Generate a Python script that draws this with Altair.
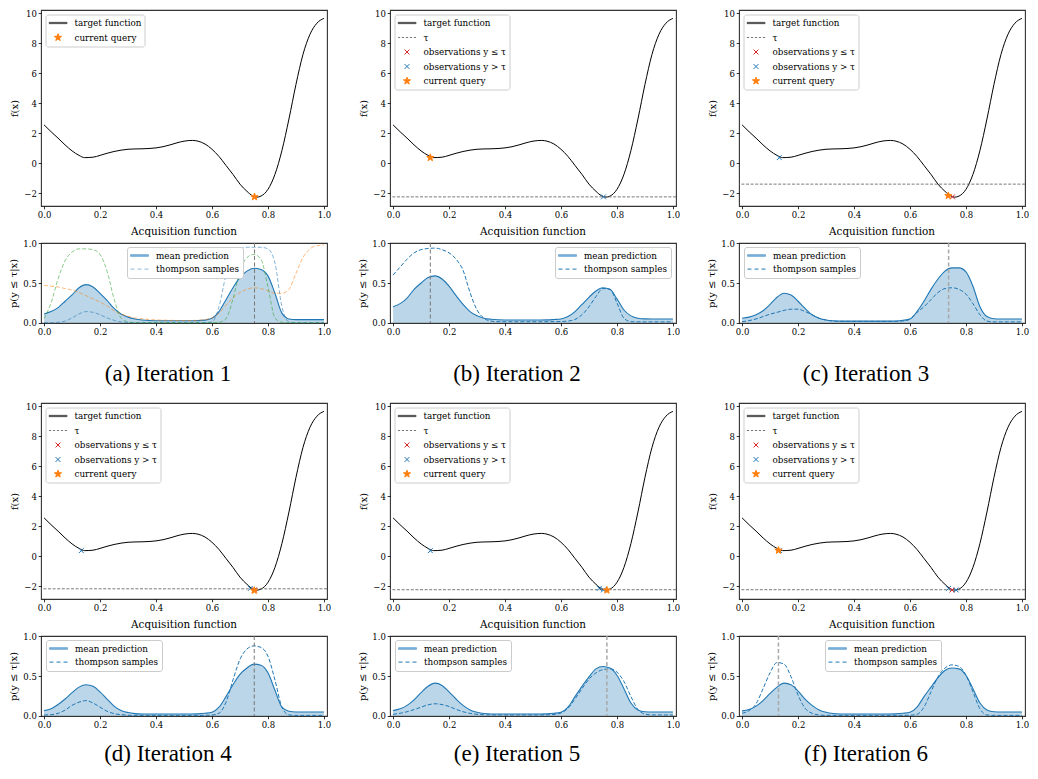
import math
import altair as alt
import pandas as pd

FONT = "DejaVu Serif"
CAP_FONT = "Liberation Serif"
BLUE = "#1f77b4"
ORANGE = "#ff7f0e"
GREEN = "#2ca02c"
RED = "#d62728"

# ---------------- target function ----------------
F_X = [0.0, 0.025, 0.05, 0.075, 0.1, 0.125, 0.145, 0.175, 0.2, 0.225, 0.25, 0.275,
       0.3, 0.325, 0.35, 0.375, 0.4, 0.425, 0.45, 0.475, 0.5, 0.53, 0.55, 0.575,
       0.6, 0.625, 0.65, 0.675, 0.7, 0.725, 0.745, 0.76, 0.775, 0.8, 0.825, 0.85,
       0.875, 0.9, 0.925, 0.95, 0.975, 1.0]
F_Y = [2.56, 2.1, 1.67, 1.22, 0.82, 0.52, 0.37, 0.40, 0.52, 0.66, 0.78, 0.87,
       0.93, 0.95, 0.96, 0.98, 1.02, 1.10, 1.22, 1.36, 1.47, 1.52, 1.47, 1.28,
       0.93, 0.45, -0.15, -0.75, -1.4, -1.88, -2.18, -2.27, -2.2, -1.75, -0.75, 0.85,
       2.95, 5.25, 7.25, 8.6, 9.35, 9.67]

# ---------------- acquisition curves ----------------
X_ACQ = [0.0, 0.025, 0.05, 0.075, 0.1, 0.125, 0.15, 0.175, 0.2, 0.225, 0.25, 0.275,
         0.3, 0.325, 0.35, 0.375, 0.4, 0.425, 0.45, 0.475, 0.5, 0.525, 0.55, 0.575,
         0.6, 0.625, 0.65, 0.675, 0.7, 0.725, 0.75, 0.775, 0.8, 0.825, 0.85, 0.875,
         0.9, 0.925, 0.95, 0.975, 1.0]

MEAN_A = [0.11, 0.14, 0.19, 0.27, 0.35, 0.44, 0.48, 0.45, 0.37, 0.28, 0.18, 0.11,
          0.07, 0.047, 0.034, 0.027, 0.025, 0.025, 0.025, 0.025, 0.025, 0.025, 0.026, 0.032,
          0.055, 0.14, 0.29, 0.44, 0.57, 0.65, 0.685, 0.67, 0.59, 0.37, 0.12, 0.047,
          0.038, 0.038, 0.038, 0.038, 0.038]
TS_A_BLUE = [0.0, 0.0, 0.005, 0.02, 0.06, 0.11, 0.14, 0.13, 0.1, 0.06, 0.03, 0.01,
             0.003, 0.0, 0.0, 0.0, 0.0, 0.0, 0.0, 0.0, 0.0, 0.0, 0.0, 0.002,
             0.01, 0.2, 0.6, 0.85, 0.93, 0.95, 0.95, 0.95, 0.93, 0.75, 0.2, 0.01,
             0.0, 0.0, 0.0, 0.0, 0.0]
TS_A_ORANGE = [0.47, 0.46, 0.45, 0.43, 0.41, 0.38, 0.34, 0.30, 0.26, 0.21, 0.15, 0.11,
               0.08, 0.06, 0.05, 0.04, 0.035, 0.032, 0.03, 0.028, 0.026, 0.027, 0.03, 0.04,
               0.06, 0.12, 0.22, 0.31, 0.38, 0.42, 0.44, 0.43, 0.40, 0.37, 0.37, 0.42,
               0.62, 0.82, 0.93, 0.97, 0.98]
TS_A_GREEN = [0.05, 0.25, 0.55, 0.78, 0.89, 0.93, 0.93, 0.92, 0.86, 0.65, 0.3, 0.06,
              0.01, 0.0, 0.0, 0.0, 0.0, 0.0, 0.0, 0.0, 0.0, 0.0, 0.0, 0.0,
              0.0, 0.005, 0.05, 0.3, 0.65, 0.82, 0.86, 0.8, 0.45, 0.06, 0.005, 0.0,
              0.0, 0.0, 0.0, 0.0, 0.0]

MEAN_B = [0.2, 0.24, 0.31, 0.42, 0.5, 0.57, 0.59, 0.55, 0.46, 0.34, 0.23, 0.14,
          0.086, 0.056, 0.043, 0.036, 0.034, 0.034, 0.034, 0.034, 0.034, 0.034, 0.035, 0.04,
          0.047, 0.077, 0.14, 0.23, 0.32, 0.4, 0.44, 0.42, 0.3, 0.16, 0.086, 0.056,
          0.048, 0.047, 0.047, 0.047, 0.047]
TS_B = [0.6, 0.7, 0.8, 0.88, 0.92, 0.935, 0.94, 0.92, 0.88, 0.8, 0.66, 0.38,
        0.16, 0.056, 0.02, 0.013, 0.012, 0.012, 0.012, 0.012, 0.012, 0.012, 0.012, 0.013,
        0.015, 0.02, 0.04, 0.1, 0.2, 0.33, 0.43, 0.42, 0.25, 0.056, 0.013, 0.01,
        0.01, 0.01, 0.01, 0.01, 0.01]

MEAN_C = [0.056, 0.07, 0.1, 0.15, 0.23, 0.32, 0.37, 0.35, 0.27, 0.18, 0.1, 0.056,
          0.034, 0.024, 0.02, 0.02, 0.02, 0.02, 0.02, 0.02, 0.02, 0.02, 0.022, 0.03,
          0.047, 0.14, 0.27, 0.42, 0.55, 0.65, 0.69, 0.69, 0.64, 0.46, 0.2, 0.077,
          0.05, 0.047, 0.047, 0.047, 0.047]
TS_C = [0.013, 0.026, 0.047, 0.077, 0.107, 0.13, 0.155, 0.17, 0.17, 0.14, 0.1, 0.056,
        0.034, 0.02, 0.017, 0.016, 0.016, 0.016, 0.016, 0.016, 0.016, 0.016, 0.017, 0.022,
        0.043, 0.13, 0.2, 0.29, 0.38, 0.43, 0.44, 0.42, 0.36, 0.24, 0.1, 0.02,
        0.01, 0.01, 0.01, 0.01, 0.01]

MEAN_D = [0.064, 0.086, 0.14, 0.21, 0.29, 0.36, 0.39, 0.37, 0.3, 0.21, 0.12, 0.064,
          0.039, 0.026, 0.021, 0.021, 0.021, 0.021, 0.021, 0.021, 0.021, 0.021, 0.023, 0.03,
          0.043, 0.107, 0.24, 0.39, 0.52, 0.6, 0.65, 0.635, 0.54, 0.32, 0.107, 0.056,
          0.047, 0.047, 0.047, 0.047, 0.047]
TS_D = [0.009, 0.012, 0.03, 0.07, 0.13, 0.17, 0.19, 0.16, 0.107, 0.056, 0.026, 0.013,
        0.006, 0.004, 0.004, 0.004, 0.004, 0.004, 0.004, 0.004, 0.004, 0.004, 0.004, 0.005,
        0.008, 0.03, 0.17, 0.45, 0.71, 0.84, 0.88, 0.86, 0.75, 0.45, 0.107, 0.009,
        0.004, 0.004, 0.004, 0.004, 0.004]

MEAN_E = [0.064, 0.086, 0.13, 0.2, 0.29, 0.37, 0.41, 0.38, 0.3, 0.21, 0.13, 0.073,
          0.043, 0.027, 0.021, 0.021, 0.021, 0.021, 0.021, 0.021, 0.021, 0.021, 0.023, 0.03,
          0.043, 0.107, 0.24, 0.37, 0.49, 0.59, 0.62, 0.6, 0.51, 0.34, 0.16, 0.073,
          0.05, 0.047, 0.047, 0.047, 0.047]
TS_E = [0.017, 0.03, 0.05, 0.077, 0.107, 0.137, 0.15, 0.14, 0.116, 0.08, 0.05, 0.03,
        0.017, 0.011, 0.009, 0.009, 0.009, 0.009, 0.009, 0.009, 0.009, 0.009, 0.01, 0.016,
        0.034, 0.094, 0.21, 0.34, 0.46, 0.54, 0.58, 0.59, 0.55, 0.43, 0.24, 0.077,
        0.021, 0.009, 0.009, 0.009, 0.009]

MEAN_F = [0.06, 0.077, 0.12, 0.19, 0.28, 0.36, 0.41, 0.39, 0.31, 0.21, 0.13, 0.073,
          0.043, 0.027, 0.021, 0.021, 0.021, 0.021, 0.021, 0.021, 0.021, 0.021, 0.023, 0.03,
          0.043, 0.107, 0.24, 0.36, 0.48, 0.57, 0.6, 0.59, 0.51, 0.34, 0.16, 0.073,
          0.05, 0.047, 0.047, 0.047, 0.047]
TS_F = [0.03, 0.064, 0.15, 0.34, 0.54, 0.67, 0.65, 0.49, 0.26, 0.094, 0.03, 0.009,
        0.004, 0.004, 0.004, 0.004, 0.004, 0.004, 0.004, 0.004, 0.004, 0.004, 0.004, 0.004,
        0.006, 0.017, 0.107, 0.3, 0.49, 0.6, 0.64, 0.62, 0.51, 0.3, 0.086, 0.009,
        0.004, 0.004, 0.004, 0.004, 0.004]

MEANS = [MEAN_A, MEAN_B, MEAN_C, MEAN_D, MEAN_E, MEAN_F]
SAMPLES = [None, TS_B, TS_C, TS_D, TS_E, TS_F]
for _s in MEANS + SAMPLES[1:] + [TS_A_BLUE, TS_A_ORANGE, TS_A_GREEN]:
    assert len(_s) == len(X_ACQ), len(_s)
assert len(F_X) == len(F_Y)

QUERY_ACQ = [0.752, 0.133, 0.738, 0.751, 0.764, 0.13]
VLINE_COLOR = ["#777777", "#777777", "#a8a8a8", "#777777", "#a8a8a8", "#a8a8a8"]
VLINE_WIDTH = [1.0, 1.0, 1.5, 1.0, 1.5, 1.5]

# ---------------- observations / queries in the top panels ----------------
TAU = [None, -2.25, -1.4, -2.18, -2.24, -2.24]
OBS_X = [[], [0.752], [0.133, 0.752], [0.133, 0.737, 0.752],
         [0.133, 0.737, 0.752], [0.134, 0.738, 0.75, 0.765]]
OBS_Y = [[], [-2.25], [0.37, -2.25], [0.37, -2.15, -2.25],
         [0.37, -2.15, -2.25], [0.37, -2.15, -2.26, -2.26]]
OBS_LOW = [[], [False], [False, True], [False, False, True],
           [False, False, False], [False, False, True, False]]
QUERY_X = [0.752, 0.133, 0.737, 0.751, 0.764, 0.13]
QUERY_Y = [-2.25, 0.37, -2.17, -2.29, -2.27, 0.39]

CAPTIONS = ["(a) Iteration 1", "(b) Iteration 2", "(c) Iteration 3",
            "(d) Iteration 4", "(e) Iteration 5", "(f) Iteration 6"]
CAP_DY = [11, 11, 11, -2, -2, -2]
ACQ_LEG_X = [86, 165, 5, 5, 5, 86]

XTICKS = [0.0, 0.2, 0.4, 0.6, 0.8, 1.0]
YTICKS_MAIN = [-2, 0, 2, 4, 6, 8, 10]
YTICKS_ACQ = [0.0, 0.5, 1.0]

W = 286
H_MAIN = 196
H_ACQ = 80


# ---------------- symbol shapes (unit square paths) ----------------
def star_path(r_out, r_in):
    pts = []
    for k in range(10):
        r = r_out if k % 2 == 0 else r_in
        a = math.radians(-90 + 36 * k)
        pts.append(f"{r * math.cos(a):.4f},{r * math.sin(a):.4f}")
    return "M" + "L".join(pts) + "Z"


CROSS = "M-0.27,-0.27L0.27,0.27M-0.27,0.27L0.27,-0.27"
STAR = star_path(0.42, 0.17)
SOLID_BAR = "M-1,-0.07H1V0.07H-1Z"
THIN_DASH = "M-1,0H-0.76M-0.56,0H-0.32M-0.12,0H0.12M0.32,0H0.56M0.76,0H1"
LONG_DASH = "M-1,0H-0.56M-0.22,0H0.22M0.56,0H1"
MEAN_BAR = "M-1,-0.09H1V0.09H-1Z"


def legend(lx, ly, row_pad):
    return alt.Legend(orient="none", legendX=lx, legendY=ly, fillColor="white",
                      strokeColor="#cccccc", cornerRadius=2.5, padding=3,
                      labelFont=FONT, labelFontSize=8.8, labelColor="black",
                      labelOffset=7, symbolSize=324, symbolStrokeWidth=1,
                      symbolFillColor="white", clipHeight=11, rowPadding=row_pad,
                      labelLimit=300)


def xch():
    return alt.X("x:Q", title=None,
                 scale=alt.Scale(domain=[-0.011, 1.011], nice=False, zero=False),
                 axis=alt.Axis(values=XTICKS, format=".1f", tickCount=20))


def main_panel(i):
    ych = alt.Y("y:Q", title="f(x)",
                scale=alt.Scale(domain=[-2.86, 10.23], nice=False, zero=False),
                axis=alt.Axis(values=YTICKS_MAIN, format="d", tickCount=20))
    fdf = pd.DataFrame({"x": F_X, "y": F_Y})
    layers = [alt.Chart(fdf).mark_line(color="black", strokeWidth=1,
                                       interpolate="monotone").encode(x=xch(), y=ych)]
    if TAU[i] is not None:
        layers.append(alt.Chart(pd.DataFrame({"y": [TAU[i]]})).mark_rule(
            color="#6b6b6b", strokeWidth=0.9, strokeDash=[3, 1.6]).encode(y="y:Q"))
        dom = ["target function", "τ", "observations y ≤ τ", "observations y > τ", "current query"]
        cols = ["#555555", "#777777", RED, BLUE, ORANGE]
        shapes = [SOLID_BAR, THIN_DASH, CROSS, CROSS, STAR]
    else:
        dom = ["target function", "current query"]
        cols = ["#555555", ORANGE]
        shapes = [SOLID_BAR, STAR]
    labs = ["observations y ≤ τ" if low else "observations y > τ" for low in OBS_LOW[i]]
    pdf = pd.DataFrame({"x": OBS_X[i] + [QUERY_X[i]],
                        "y": OBS_Y[i] + [QUERY_Y[i]],
                        "lab": labs + ["current query"]})
    leg = legend(4.5, 4.5, 3.5)
    layers.append(alt.Chart(pdf).mark_point(size=324, strokeWidth=1, opacity=1, filled=False).encode(
        x="x:Q", y="y:Q",
        shape=alt.Shape("lab:N", title=None, scale=alt.Scale(domain=dom, range=shapes), legend=leg),
        stroke=alt.Stroke("lab:N", title=None, scale=alt.Scale(domain=dom, range=cols), legend=leg),
        fill=alt.Fill("lab:N", title=None, scale=alt.Scale(domain=dom, range=cols), legend=leg),
    ))
    return alt.layer(*layers).properties(width=W, height=H_MAIN)


def acq_panel(i):
    ych = alt.Y("v:Q", title="p(y ≤ τ|x)",
                scale=alt.Scale(domain=[-0.004, 1.004], nice=False, zero=False),
                axis=alt.Axis(values=YTICKS_ACQ, format=".1f", tickCount=20))
    mdf = pd.DataFrame({"x": X_ACQ, "v": MEANS[i]})
    area = alt.Chart(mdf).mark_area(color=BLUE, opacity=0.3, interpolate="monotone").encode(
        x=xch(), y=ych, y2=alt.datum(0))
    mline = alt.Chart(mdf).mark_line(color=BLUE, strokeWidth=1.1, interpolate="monotone").encode(
        x="x:Q", y="v:Q")
    if i == 0:
        n = len(X_ACQ)
        tdf = pd.DataFrame({"x": X_ACQ * 3,
                            "v": TS_A_BLUE + TS_A_ORANGE + TS_A_GREEN,
                            "s": ["s1"] * n + ["s2"] * n + ["s3"] * n})
        ts = alt.Chart(tdf).mark_line(strokeDash=[4, 2], strokeWidth=1, opacity=0.55,
                                      interpolate="monotone").encode(
            x="x:Q", y="v:Q",
            color=alt.Color("s:N", scale=alt.Scale(domain=["s1", "s2", "s3"],
                                                   range=[BLUE, ORANGE, GREEN]), legend=None))
        ts_col = "#8fbbd9"
    else:
        tdf = pd.DataFrame({"x": X_ACQ, "v": SAMPLES[i]})
        ts = alt.Chart(tdf).mark_line(strokeDash=[4, 2], strokeWidth=1, color=BLUE,
                                      interpolate="monotone").encode(x="x:Q", y="v:Q")
        ts_col = BLUE
    vline = alt.Chart(pd.DataFrame({"x": [QUERY_ACQ[i]]})).mark_rule(
        color=VLINE_COLOR[i], strokeDash=[4, 2.5], strokeWidth=VLINE_WIDTH[i]).encode(x="x:Q")
    ldom = ["mean prediction", "thompson samples"]
    lcols = ["#7aafd8", ts_col]
    lshapes = [MEAN_BAR, LONG_DASH]
    ldf = pd.DataFrame({"x": [QUERY_ACQ[i]] * 2, "v": [MEANS[i][0]] * 2, "lab": ldom})
    leg = legend(ACQ_LEG_X[i], 4, 2.6)
    leg_layer = alt.Chart(ldf).mark_point(size=324, strokeWidth=1, opacity=0, filled=False).encode(
        x="x:Q", y="v:Q",
        shape=alt.Shape("lab:N", title=None, scale=alt.Scale(domain=ldom, range=lshapes), legend=leg),
        stroke=alt.Stroke("lab:N", title=None, scale=alt.Scale(domain=ldom, range=lcols), legend=leg),
        fill=alt.Fill("lab:N", title=None, scale=alt.Scale(domain=ldom, range=lcols), legend=leg),
    )
    return alt.layer(area, mline, ts, vline, leg_layer).properties(
        width=W, height=H_ACQ,
        title=alt.TitleParams("Acquisition function", font=FONT, fontSize=10.4,
                              fontWeight="normal", color="black", offset=2))


def caption_panel(i):
    return alt.Chart(pd.DataFrame({"c": [CAPTIONS[i]]})).mark_text(
        font=CAP_FONT, fontSize=23, color="black", dx=-16, dy=CAP_DY[i], baseline="middle"
    ).encode(text="c:N").properties(width=W, height=6,
                                    view=alt.ViewBackground(stroke="transparent"))


cells = []
for r in range(2):
    idx = [3 * r, 3 * r + 1, 3 * r + 2]
    cells += [main_panel(i) for i in idx]
    cells += [acq_panel(i) for i in idx]
    cells += [caption_panel(i) for i in idx]

chart = alt.concat(*cells, columns=3).properties(
    spacing={"row": 37, "column": 63}, bounds="flush",
    padding={"left": 0, "top": 0, "right": 0, "bottom": 0},
).resolve_scale(
    shape="independent", stroke="independent", fill="independent", color="independent",
).resolve_legend(
    shape="independent", stroke="independent", fill="independent", color="independent",
).configure(background="white").configure_view(stroke="#333333", strokeWidth=1.1).configure_axis(
    labelFont=FONT, labelFontSize=8.5, labelColor="black", labelFlush=False,
    labelOverlap=False,
    tickColor="black", tickSize=2.8, tickWidth=0.8, domain=False, grid=False,
    titleFont=FONT, titleFontSize=10, titleFontWeight="normal", titleColor="black",
    labelPadding=1.8, titlePadding=4,
)

chart.save("out.html", embed_options={"renderer": "svg", "actions": False})
